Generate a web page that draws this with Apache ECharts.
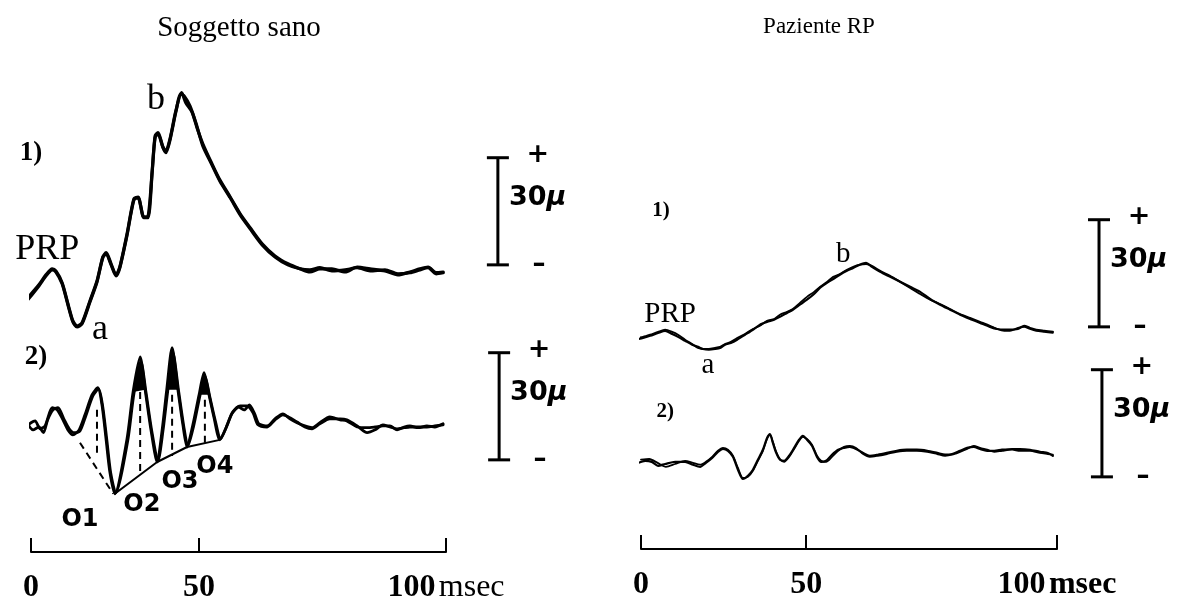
<!DOCTYPE html>
<html>
<head>
<meta charset="utf-8">
<script src="https://cdn.jsdelivr.net/npm/echarts@6/dist/echarts.min.js"></script>
<style>
html, body { margin: 0; padding: 0; background: #fff; }
#chart { width: 1179px; height: 605px; }
</style>
</head>
<body>
<div id="chart"></div>
<script>
// time: units along the drawn time bar (0 = left tick, 100 = right tick)
// amplitude: microvolts relative to each trace's own baseline
var tickLabels = ['0', '50', '100'];
var sanoTicks = [0, 40.5, 100];
var rpTicks = [0, 39.7, 100];

// Soggetto sano, 1) two superimposed recordings
var sano1a = [[-1.2,-9.0],[1.9,-4.5],[3.6,-1.7],[5.1,0],[6.0,-0.6],[7.5,-3.9],[8.9,-9.8],[10.1,-14.6],[11.1,-16.0],[12.3,-15.1],[14.2,-9.0],[15.9,-3.4],[17.3,3.4],[18.1,4.5],[19.3,1.4],[20.5,-1.7],[21.4,0.6],[23.1,9.5],[24.8,19.6],[25.8,20.2],[27.2,14.6],[28.2,14.6],[29.2,27.4],[29.9,37.0],[30.6,38.1],[31.8,34.2],[32.5,32.8],[33.5,36.4],[34.9,44.2],[36.1,49.3],[36.9,48.7],[38.3,45.9],[39.8,40.9],[41.4,34.7],[43.6,29.4],[45.5,24.9],[48.0,20.2],[50.4,15.4],[52.8,11.5],[55.7,7.0],[58.8,3.6],[61.9,1.4],[64.8,0.3],[67.2,0],[69.6,0.6],[72.5,-0.3],[75.7,0],[78.6,0.6],[81.7,-0.3],[85.3,0],[88.4,-1.1],[91.3,-0.8],[93.7,0],[95.7,0.6],[97.6,-1.1],[99.3,-0.8]];
var sano1b = [[-1.2,-8.4],[1.9,-4.2],[3.6,-1.4],[5.1,0.3],[6.0,-0.3],[7.5,-3.6],[8.9,-9.5],[10.1,-14.3],[11.1,-15.7],[12.3,-14.8],[14.2,-8.7],[15.9,-3.1],[17.3,3.6],[18.1,4.8],[19.3,1.7],[20.5,-1.4],[21.4,0.8],[23.1,9.8],[24.8,19.9],[25.8,20.4],[27.2,14.8],[28.2,15.0],[29.2,27.7],[29.9,37.5],[30.6,38.4],[31.8,34.4],[32.5,33.2],[33.5,36.7],[34.9,44.5],[36.3,49.6],[37.3,46.8],[38.8,44.2],[40.0,39.8],[41.4,35.3],[43.6,29.7],[45.5,25.2],[48.0,20.4],[50.4,15.7],[52.8,11.8],[55.7,7.3],[58.8,3.9],[61.9,1.7],[64.8,0.3],[67.2,-0.6],[69.6,0.3],[72.5,0.3],[75.7,-0.6],[78.6,0.8],[81.7,0.3],[85.3,-0.3],[88.4,-1.4],[91.3,-0.6],[93.7,0.3],[95.7,0.8],[97.6,-0.8],[99.3,-0.6]];

// Soggetto sano, 2) oscillatory potentials
var sano2a = [[-1.2,-0.6],[0,0.6],[1.0,1.1],[2.2,-1.1],[3.4,-0.3],[5.1,4.8],[6.3,4.2],[7.7,1.4],[8.9,-1.4],[10.1,-2.8],[11.6,-1.4],[13.0,2.8],[14.7,8.4],[16.1,10.4],[17.1,5.6],[18.1,-4.2],[19.0,-13.2],[20.2,-19.3],[23.1,-4.2],[24.6,9.2],[26.3,19.0],[27.5,9.8],[28.9,-1.4],[30.4,-10.4],[31.6,-1.4],[32.7,9.8],[34.0,21.6],[35.4,9.8],[36.6,0],[37.6,-6.2],[39.0,0],[40.5,8.4],[41.7,14.6],[42.9,8.4],[44.1,2.0],[45.5,-4.2],[47.0,-0.8],[48.4,3.1],[50.4,5.3],[52.0,5.3],[53.5,3.4],[54.7,0],[56.9,-0.6],[58.8,1.4],[60.7,2.8],[62.4,2.0],[64.1,0.8],[66.0,-0.6],[67.7,-1.1],[69.6,0.3],[72.0,1.7],[74.5,1.7],[76.1,1.4],[78.6,-0.3],[81.0,-2.2],[82.9,-1.4],[84.8,0],[86.5,-0.6],[88.2,-1.1],[89.9,-0.8],[91.3,-0.6],[93.3,-0.6],[95.4,-0.6],[97.3,-0.3],[99.3,0]];
var sano2b = [[-1.2,1.1],[0.5,-1.4],[1.9,-0.6],[3.0,-2.2],[4.0,1.4],[5.3,4.2],[6.5,4.8],[7.9,1.7],[9.2,-1.1],[10.4,-2.2],[11.8,-1.7],[13.2,2.5],[14.9,8.1],[16.3,10.1],[17.3,5.0],[18.3,-4.5],[19.2,-13.4],[20.4,-19.0],[23.3,-4.5],[24.8,8.7],[26.5,17.6],[27.7,9.2],[29.1,-1.7],[30.6,-10.1],[31.8,-1.7],[32.9,9.0],[34.2,20.2],[35.6,9.2],[36.8,-0.3],[37.8,-5.9],[39.2,-0.3],[40.7,8.1],[41.9,13.7],[43.1,7.8],[44.3,1.7],[45.7,-3.9],[47.2,-0.3],[48.6,3.6],[50.0,5.0],[51.4,4.2],[52.6,5.6],[53.9,3.1],[54.9,0.3],[56.9,-0.3],[58.8,1.7],[60.7,3.1],[62.4,1.7],[64.1,0.6],[66.0,-0.3],[67.7,-0.8],[69.6,0.6],[72.0,2.2],[74.5,1.4],[76.1,1.1],[78.6,-0.6],[81.0,-0.8],[82.9,-0.6],[84.8,-0.3],[86.5,-0.3],[88.2,-1.4],[89.9,-0.6],[91.3,-0.3],[93.3,-0.8],[95.4,-0.3],[97.3,-0.6],[99.3,0.3]];
var sano2Peaks = [26.3, 34.0, 41.7];                 // O2, O3, O4 apexes (filled tips)
var sano2Dashed = [[15.9,4.2,15.9,-8.4],[26.3,9.2,26.3,-13.7],[34.0,8.4,34.0,-8.7],[41.9,7.0,41.9,-5.0],[11.8,-5.0,19.8,-19.3]];
var sano2Envelope = [[20.2,-19.3],[30.4,-10.4],[37.6,-6.2],[45.5,-4.2]];

// Paziente RP, 1)
var rp1a = [[-1.4,-2.2],[0.5,-1.7],[2.2,-1.1],[4.1,-0.3],[5.8,0.3],[7.5,-0.6],[8.9,-1.4],[10.6,-2.5],[12.3,-3.6],[13.7,-4.2],[14.9,-4.8],[16.3,-5.0],[17.8,-4.8],[19.0,-4.5],[20.2,-3.6],[21.6,-3.1],[23.1,-2.2],[25.0,-0.8],[26.9,0.6],[28.6,2.0],[30.3,2.8],[32.0,3.4],[33.4,4.2],[35.1,5.3],[36.5,6.2],[38.2,7.6],[39.9,9.0],[41.6,10.6],[43.0,12.3],[44.7,13.7],[46.2,14.8],[47.8,16.0],[49.5,17.1],[51.0,17.9],[52.6,18.8],[54.1,19.3],[55.5,18.2],[57.5,16.8],[59.9,15.4],[62.3,14.0],[64.7,12.6],[67.1,11.2],[69.5,9.2],[71.9,7.6],[74.3,6.2],[76.7,4.8],[79.1,3.6],[81.5,2.5],[83.9,1.4],[85.6,0.8],[87.3,0.6],[88.7,0.6],[90.6,0.8],[92.1,1.7],[93.5,1.1],[95.0,0.6],[96.9,0.3],[99.0,0]];
var rp1b = [[-1.4,-1.7],[0.5,-1.4],[2.2,-0.8],[4.1,0],[5.8,0.6],[7.5,0],[8.9,-0.8],[10.6,-2.2],[12.3,-3.4],[13.7,-4.5],[14.9,-4.8],[16.3,-4.8],[17.8,-4.5],[19.0,-4.2],[20.2,-3.4],[21.6,-2.8],[23.1,-1.7],[25.0,-0.6],[26.9,0.8],[28.6,1.7],[30.3,3.1],[32.0,3.6],[33.4,4.8],[35.1,5.6],[36.5,6.4],[38.2,8.1],[39.9,9.8],[41.6,11.2],[43.0,12.6],[44.7,14.0],[46.2,15.4],[47.8,16.2],[49.5,17.4],[51.0,18.2],[52.6,18.8],[54.1,19.0],[55.5,18.5],[57.5,17.1],[59.9,15.7],[62.3,14.0],[64.7,12.3],[67.1,10.6],[69.5,9.0],[71.9,7.8],[74.3,6.4],[76.7,5.0],[79.1,3.9],[81.5,2.8],[83.9,1.7],[85.6,0.8],[87.3,0.3],[88.7,0.3],[90.6,1.1],[92.1,1.4],[93.5,0.8],[95.0,0.3],[96.9,0],[99.0,-0.3]];

// Paziente RP, 2)
var rp2a = [[-0.7,-3.1],[1.0,-2.5],[2.6,-2.8],[4.1,-3.9],[5.8,-3.4],[8.2,-2.8],[10.6,-2.8],[12.5,-3.6],[14.2,-4.2],[15.6,-3.1],[17.1,-1.7],[18.5,0],[19.7,0.8],[20.9,0.3],[22.1,-1.4],[23.3,-5.0],[24.5,-7.6],[25.7,-6.7],[26.9,-5.0],[28.1,-2.2],[29.3,0.6],[30.3,3.9],[31.0,5.0],[31.7,2.5],[32.5,-0.3],[33.4,-2.2],[34.4,-2.5],[35.6,-1.1],[36.8,1.1],[38.0,3.4],[38.9,4.5],[39.9,3.4],[41.1,1.7],[42.3,-1.4],[43.3,-2.8],[44.5,-2.5],[45.9,-0.8],[47.4,0.6],[48.8,1.1],[50.2,1.4],[51.7,0.8],[53.4,-0.3],[55.0,-1.1],[56.9,-0.8],[59.1,-0.3],[61.5,0.3],[63.9,0.6],[66.3,0.6],[68.8,0.3],[71.2,-0.3],[73.1,-0.8],[74.8,-0.6],[76.7,0.3],[78.4,1.1],[80.0,1.4],[81.5,0.8],[83.2,0.3],[84.9,0.3],[86.8,0.6],[89.2,0.8],[91.1,0.8],[93.5,0.6],[95.9,0],[97.8,-0.3],[99.0,-1.1]];
var rp2b = [[0.0,-2.2],[2.0,-2.0],[4.0,-3.1],[6.0,-4.2],[8.2,-3.4],[10.6,-2.5],[12.5,-3.1],[14.2,-3.6],[15.6,-2.8],[17.1,-1.4],[18.5,0.3],[19.7,1.1],[20.9,0.6],[22.1,-1.1],[23.3,-4.5],[24.5,-7.3],[25.7,-7.0],[26.9,-5.3],[28.1,-2.5],[29.3,0.3],[30.3,3.6],[31.0,4.8],[31.7,2.8],[32.5,0],[33.4,-2.0],[34.4,-2.8],[35.6,-1.4],[36.8,0.8],[38.0,3.1],[38.9,4.2],[39.9,3.6],[41.1,2.0],[42.3,-1.1],[43.3,-2.5],[44.5,-2.8],[45.9,-1.4],[47.4,0.3],[48.8,1.4],[50.2,1.7],[51.7,1.1],[53.4,-0.6],[55.0,-1.4],[56.9,-1.1],[59.1,-0.6],[61.5,0],[63.9,0.3],[66.3,0.3],[68.8,0],[71.2,-0.6],[73.1,-1.1],[74.8,-0.8],[76.7,0],[78.4,0.8],[80.0,1.7],[81.5,1.1],[83.2,0.6],[84.9,0],[86.8,0.3],[89.2,0.6],[91.1,0.3],[93.5,0.3],[95.9,-0.3],[97.8,-0.6],[99.0,-0.8]];

// annotations: [time, amplitude, text]
var sano1Notes = [[0,32.8,'1)'],[3.9,5.6,'PRP'],[16.6,-16.8,'a'],[30.1,47.6,'b']];
var sano2Notes = [[1.2,19.0,'2)']];
var sano2Waves = [[11.8,-26.6,'O1'],[26.7,-22.4,'O2'],[35.9,-16.0,'O3'],[44.3,-11.8,'O4']];
var rp1Notes = [[4.8,33.9,'1)'],[7.0,4.8,'PRP'],[16.1,-9.5,'a'],[48.6,21.6,'b']];
var rp2Notes = [[5.8,11.2,'2)']];

// calibration bars: [time, bottom amplitude (rel. baseline), size in μV]
var calSize = 30;
var sano1Cal = [112.5, 1.4];
var sano2Cal = [112.8, -9.8];
var rp1Cal = [110.1, 1.4];
var rp2Cal = [110.8, -7.0];

// trace baselines (μV above the time bar)
var SANO1_OFF = 79.0, SANO2_OFF = 35.6, RP1_OFF = 60.8, RP2_OFF = 27.2;

var SERIF = '"Liberation Serif", "Times New Roman", serif';
var SANS = '"DejaVu Sans", sans-serif';

function shift(arr, off) {
    return arr.map(function (p) { return [p[0], p[1] + off]; });
}

// labels placed at data coordinates; panel numbers "1)" "2)" are bold
function noteMarks(notes, off, size, smallSize, family) {
    return {
        symbol: 'circle',
        symbolSize: 1,
        itemStyle: { color: 'rgba(0,0,0,0)' },
        silent: true,
        animation: false,
        data: notes.map(function (n) {
            var isNum = /\)$/.test(n[2]);
            return {
                coord: [n[0], n[1] + off],
                name: n[2],
                label: {
                    show: true, position: 'inside', formatter: '{b}', color: '#000',
                    fontFamily: family || SERIF,
                    fontWeight: (isNum || family) ? 'bold' : 'normal',
                    fontSize: isNum ? smallSize : size
                }
            };
        })
    };
}

function traceSeries(g, data, off, width, marks) {
    var s = {
        type: 'line', xAxisIndex: g, yAxisIndex: g,
        data: shift(data, off),
        symbol: 'none', smooth: 0.25, clip: false, silent: true,
        lineStyle: { color: '#000', width: width, join: 'round', cap: 'round' }
    };
    if (marks) s.markPoint = marks;
    return s;
}

function calSeries(g, cal, off) {
    return {
        type: 'custom', xAxisIndex: g, yAxisIndex: g, silent: true, clip: false,
        data: [[cal[0], cal[1] + off, calSize]],
        renderItem: function (params, api) {
            var b = api.coord([api.value(0), api.value(1)]);
            var t = api.coord([api.value(0), api.value(1) + api.value(2)]);
            var st = { stroke: '#000', lineWidth: 3 };
            var w = 11;
            return {
                type: 'group',
                children: [
                    { type: 'line', shape: { x1: b[0], y1: t[1], x2: b[0], y2: b[1] }, style: st },
                    { type: 'line', shape: { x1: b[0] - w, y1: t[1], x2: b[0] + w, y2: t[1] }, style: st },
                    { type: 'line', shape: { x1: b[0] - w, y1: b[1], x2: b[0] + w, y2: b[1] }, style: st },
                    { type: 'text', x: b[0] + 40, y: t[1] - 3, style: { text: '+', fill: '#000', font: 'bold 27px ' + SANS, align: 'center', verticalAlign: 'middle' } },
                    { type: 'text', x: b[0] + 11, y: t[1] + (b[1] - t[1]) * 0.38, style: {
                        text: '{n|30}{m|μ}', align: 'left', verticalAlign: 'middle',
                        rich: {
                            n: { fill: '#000', font: 'bold 27px ' + SANS },
                            m: { fill: '#000', font: 'italic bold 27px ' + SANS }
                        }
                    } },
                    { type: 'text', x: b[0] + 41, y: b[1], style: { text: '\u2013', fill: '#000', font: 'bold 26px ' + SANS, align: 'center', verticalAlign: 'middle' } }
                ]
            };
        }
    };
}

function dashSeries(g, segs, off) {
    return {
        type: 'custom', xAxisIndex: g, yAxisIndex: g, silent: true, clip: false,
        data: segs.map(function (s) { return [s[0], s[1] + off, s[2], s[3] + off]; }),
        renderItem: function (params, api) {
            var p1 = api.coord([api.value(0), api.value(1)]);
            var p2 = api.coord([api.value(2), api.value(3)]);
            return { type: 'line', shape: { x1: p1[0], y1: p1[1], x2: p2[0], y2: p2[1] },
                     style: { stroke: '#000', lineWidth: 2, lineDash: [7, 5] } };
        }
    };
}

function peakFillSeries(g, trace, peaks, off) {
    var pts = shift(trace, off);
    var idx = peaks.map(function (t) {
        for (var i = 0; i < pts.length; i++) if (pts[i][0] === t) return i;
        return -1;
    });
    return {
        type: 'custom', xAxisIndex: g, yAxisIndex: g, silent: true, clip: false,
        data: idx.map(function (i) { return [pts[i - 1][0], pts[i - 1][1], pts[i][0], pts[i][1], pts[i + 1][0], pts[i + 1][1]]; }),
        renderItem: function (params, api) {
            var a = api.coord([api.value(0), api.value(1)]);
            var b = api.coord([api.value(2), api.value(3)]);
            var c = api.coord([api.value(4), api.value(5)]);
            return { type: 'polygon', shape: { points: [a, b, c] }, style: { fill: '#000' } };
        }
    };
}

function xAxisFor(g, ticks, unitBold) {
    return {
        type: 'value', gridIndex: g, min: 0, max: 100,
        axisLine: { show: true, lineStyle: { color: '#000', width: 2 } },
        axisTick: { show: true, inside: true, length: 14, customValues: ticks, lineStyle: { color: '#000', width: 2 } },
        splitLine: { show: false },
        axisLabel: {
            show: true, customValues: ticks, margin: 20,
            formatter: function (v) {
                var i = ticks.indexOf(v);
                var t = tickLabels[i];
                return i === ticks.length - 1 ? '{n|' + t + '} {u|msec}' : '{n|' + t + '}';
            },
            rich: {
                n: { fontFamily: SERIF, fontWeight: 'bold', fontSize: 32, color: '#000' },
                u: { fontFamily: SERIF, fontWeight: unitBold ? 'bold' : 'normal', fontSize: 32, color: '#000' }
            }
        }
    };
}

var chart = echarts.init(document.getElementById('chart'), null, { renderer: 'canvas' });

var option = {
    backgroundColor: '#fff',
    animation: false,
    grid: [
        { left: 31, right: 733, top: 52, bottom: 53 },
        { left: 641, right: 122, top: 49, bottom: 56 }
    ],
    xAxis: [xAxisFor(0, sanoTicks, false), xAxisFor(1, rpTicks, true)],
    yAxis: [
        { type: 'value', gridIndex: 0, min: 0, max: 140, show: false },
        { type: 'value', gridIndex: 1, min: 0, max: 140, show: false }
    ],
    graphic: [
        { type: 'text', x: 239, y: 28, style: { text: 'Soggetto sano', font: '29px ' + SERIF, fill: '#000', align: 'center', verticalAlign: 'middle' } },
        { type: 'text', x: 819, y: 27, style: { text: 'Paziente RP', font: '23px ' + SERIF, fill: '#000', align: 'center', verticalAlign: 'middle' } }
    ],
    series: [
        traceSeries(0, sano1b, SANO1_OFF, 3.2),
        traceSeries(0, sano1a, SANO1_OFF, 3.2, noteMarks(sano1Notes, SANO1_OFF, 36, 27)),
        traceSeries(0, sano2b, SANO2_OFF, 2.8),
        traceSeries(0, sano2a, SANO2_OFF, 2.8, noteMarks(sano2Notes, SANO2_OFF, 36, 27)),
        peakFillSeries(0, sano2a, sano2Peaks, SANO2_OFF),
        dashSeries(0, sano2Dashed, SANO2_OFF),
        {
            type: 'line', xAxisIndex: 0, yAxisIndex: 0, silent: true, clip: false,
            data: shift(sano2Envelope, SANO2_OFF), symbol: 'none',
            lineStyle: { color: '#000', width: 2 },
            markPoint: noteMarks(sano2Waves, SANO2_OFF, 24, 24, SANS)
        },
        calSeries(0, sano1Cal, SANO1_OFF),
        calSeries(0, sano2Cal, SANO2_OFF),

        traceSeries(1, rp1b, RP1_OFF, 1.8),
        traceSeries(1, rp1a, RP1_OFF, 2.2, noteMarks(rp1Notes, RP1_OFF, 29, 21)),
        traceSeries(1, rp2b, RP2_OFF, 1.8),
        traceSeries(1, rp2a, RP2_OFF, 2.2, noteMarks(rp2Notes, RP2_OFF, 29, 21)),
        calSeries(1, rp1Cal, RP1_OFF),
        calSeries(1, rp2Cal, RP2_OFF)
    ]
};

chart.setOption(option);
</script>
</body>
</html>
